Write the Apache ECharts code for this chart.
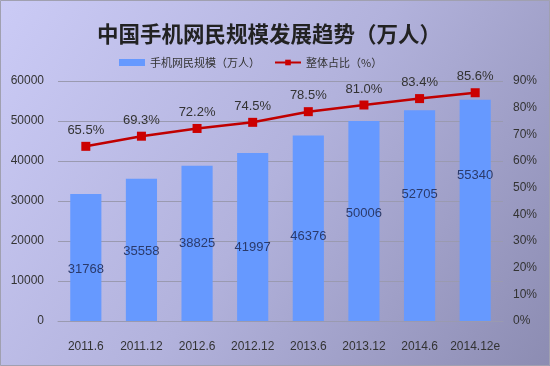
<!DOCTYPE html>
<html><head><meta charset="utf-8">
<script src="https://cdn.jsdelivr.net/npm/echarts@6/dist/echarts.min.js"></script>
<style>html,body{margin:0;padding:0;}#c{width:550px;height:366px;}</style>
</head><body><div id="c"></div>
<script>
const categories = ['2011.6','2011.12','2012.6','2012.12','2013.6','2013.12','2014.6','2014.12e'];
const users = [31768, 35558, 38825, 41997, 46376, 50006, 52705, 55340];
const share = [65.5, 69.3, 72.2, 74.5, 78.5, 81.0, 83.4, 85.6];
const shareLabels = ['65.5%','69.3%','72.2%','74.5%','78.5%','81.0%','83.4%','85.6%'];

const labelShift = [12, 2, 0, 10, 8, -8, -21, -35];
const chart = echarts.init(document.getElementById('c'));
chart.setOption({
  animation: false,
  backgroundColor: new echarts.graphic.LinearGradient(0, 0, 1, 1, [
    {offset: 0, color: '#cbcbf6'}, {offset: 0.5, color: '#b2b2dc'}, {offset: 1, color: '#8c8cb2'}
  ]),
  title: {
    text: '中国手机网民规模发展趋势（万人）', left: 92, top: 18,
    textStyle: {fontFamily: 'Noto Sans CJK SC', fontWeight: 'bold', fontSize: 21.5, color: '#222'}
  },
  legend: {
    top: 52, left: 114, itemGap: 14, itemWidth: 26, itemHeight: 7,
    textStyle: {fontFamily: 'Noto Sans CJK SC', fontSize: 11, color: '#333'},
    data: [{name: '手机网民规模（万人）', icon: 'rect'}, {name: '整体占比（%）'}]
  },
  grid: {left: 58, right: 47, top: 81, bottom: 45},
  xAxis: {
    type: 'category', data: categories,
    axisLine: {lineStyle: {color: '#9a9ab0'}}, axisTick: {show: false},
    axisLabel: {color: '#333', fontSize: 12, fontFamily: 'Liberation Sans', margin: 20, interval: 0}
  },
  yAxis: [{
    type: 'value', min: 0, max: 60000, interval: 10000,
    axisLine: {show: false}, axisTick: {show: false},
    splitLine: {lineStyle: {color: '#9a9ab0'}},
    axisLabel: {color: '#333', fontSize: 12, fontFamily: 'Liberation Sans', margin: 14, formatter: v => String(v)}
  }, {
    type: 'value', min: 0, max: 90, interval: 10,
    axisLine: {show: false}, axisTick: {show: false}, splitLine: {show: false},
    axisLabel: {color: '#333', fontSize: 12, fontFamily: 'Liberation Sans', formatter: '{value}%', margin: 10}
  }],
  series: [{
    name: '手机网民规模（万人）', type: 'bar', data: users.map((v, i) => ({
      value: v, label: {offset: [0, labelShift[i]]}
    })),
    barWidth: '56%', itemStyle: {color: '#6699ff'},
    label: {show: true, position: 'inside', color: '#2b3a6b', fontSize: 13, fontFamily: 'Liberation Sans'}
  }, {
    name: '整体占比（%）', type: 'line', yAxisIndex: 1, data: share,
    symbol: 'rect', symbolSize: 9,
    lineStyle: {color: '#c00000', width: 2.5}, itemStyle: {color: '#cc0000'},
    label: {show: true, position: 'top', distance: 5, color: '#333', fontSize: 13, fontFamily: 'Liberation Sans',
      formatter: p => shareLabels[p.dataIndex]}
  }],
  graphic: [{type: 'rect', shape: {x: 0.5, y: 0.5, width: 549, height: 365}, style: {fill: 'none', stroke: '#a0a0b0', lineWidth: 1}}]
});
</script></body></html>
